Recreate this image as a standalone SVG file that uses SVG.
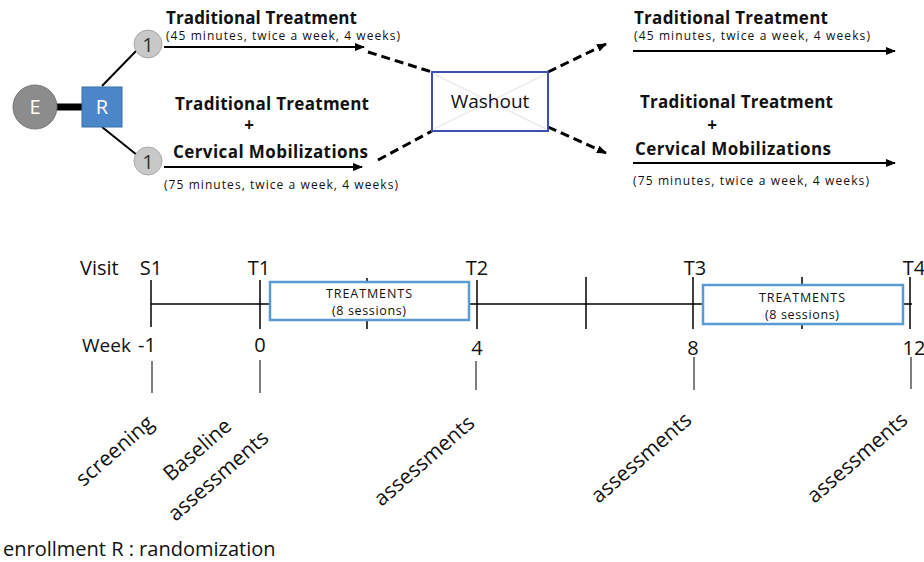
<svg xmlns="http://www.w3.org/2000/svg" width="924" height="562" viewBox="0 0 924 562">
<defs>
<marker id="ah" markerWidth="10" markerHeight="8" refX="9" refY="4" orient="auto" markerUnits="userSpaceOnUse">
<path d="M0,0 L10,4 L0,8 z" fill="#000"/>
</marker>
<style>
text{font-family:"Open Sans","Noto Sans",sans-serif;fill:#111}
.b{font-weight:bold;font-size:17px}
.s{font-size:12px}
.m{font-size:12.5px}
.big{font-size:20px}
.lab{font-size:19px}
.rot{font-size:21px}
.ln{stroke:#000;stroke-width:2;fill:none}
.dash{stroke:#000;stroke-width:3;stroke-dasharray:9,5;fill:none}
.tk{stroke:#000;stroke-width:1.5}
.thin{stroke:#000;stroke-width:1}
.tb{fill:#fff;stroke:#5b9bd5;stroke-width:2.5}
</style>
</defs>
<g id="connectors">
<line x1="56" y1="107" x2="83" y2="107" stroke="#000" stroke-width="7"/>
<line class="ln" x1="102" y1="86" x2="137" y2="50"/>
<line class="ln" x1="102" y1="127" x2="137" y2="155"/>
<line class="ln" x1="164" y1="47" x2="364" y2="47" marker-end="url(#ah)"/>
<line class="ln" x1="164" y1="167" x2="362" y2="167" marker-end="url(#ah)"/>
<line class="dash" x1="368" y1="52" x2="432" y2="72"/>
<line class="dash" x1="378" y1="160" x2="432" y2="131"/>
<line class="dash" x1="548" y1="72" x2="606" y2="44" marker-end="url(#ah)"/>
<line class="dash" x1="548" y1="127" x2="606" y2="153" marker-end="url(#ah)"/>
<line class="ln" x1="633" y1="51" x2="895" y2="51" marker-end="url(#ah)"/>
<line class="ln" x1="633" y1="163" x2="895" y2="163" marker-end="url(#ah)"/>
</g>
<g id="E"><circle cx="35" cy="107" r="22" fill="#8c8c8c" stroke="#777" stroke-width="1"/><text x="35" y="114" text-anchor="middle" class="big" style="fill:#fff">E</text></g>
<g id="R"><rect x="82" y="87" width="40" height="40" fill="#4a86c8" stroke="#3a70aa"/><text x="102" y="114" text-anchor="middle" class="big" style="fill:#fff">R</text></g>
<g id="n1top"><circle cx="148" cy="44" r="14" fill="#c8c8c8" stroke="#aaa"/><text x="148" y="52" text-anchor="middle" class="big" style="fill:#333">1</text></g>
<g id="n1bot"><circle cx="148" cy="161" r="14" fill="#c8c8c8" stroke="#aaa"/><text x="148" y="169" text-anchor="middle" class="big" style="fill:#333">1</text></g>
<g id="armA">
<text x="166" y="24" class="b" textLength="191">Traditional Treatment</text>
<text x="166" y="40" class="s" textLength="234">(45 minutes, twice a week, 4 weeks)</text>
</g>
<g id="armB">
<text x="272" y="110" class="b" text-anchor="middle" textLength="194">Traditional Treatment</text>
<text x="249" y="131" class="b" text-anchor="middle">+</text>
<text x="173" y="158" class="b" textLength="195">Cervical Mobilizations</text>
<text x="164" y="189" class="s" textLength="234">(75 minutes, twice a week, 4 weeks)</text>
</g>
<g id="washout">
<rect x="432" y="72" width="116" height="59" fill="#fff" stroke="#3f4fb0" stroke-width="2"/>
<line x1="434" y1="74" x2="546" y2="129" stroke="#ececec" stroke-width="1.5"/>
<line x1="546" y1="74" x2="434" y2="129" stroke="#ececec" stroke-width="1.5"/>
<text x="490" y="108" text-anchor="middle" class="lab">Washout</text>
</g>
<g id="armC">
<text x="634" y="24" class="b" textLength="194">Traditional Treatment</text>
<text x="634" y="40" class="s" textLength="236">(45 minutes, twice a week, 4 weeks)</text>
</g>
<g id="armD">
<text x="640" y="108" class="b" textLength="193">Traditional Treatment</text>
<text x="712" y="131" class="b" text-anchor="middle">+</text>
<text x="635" y="155" class="b" textLength="196">Cervical Mobilizations</text>
<text x="633" y="185" class="s" textLength="236">(75 minutes, twice a week, 4 weeks)</text>
</g>
<g id="timeline">
<text x="80" y="275" class="big">Visit</text>
<text x="151" y="275" class="big" text-anchor="middle">S1</text>
<text x="259" y="275" class="big" text-anchor="middle">T1</text>
<text x="477" y="275" class="big" text-anchor="middle">T2</text>
<text x="695" y="275" class="big" text-anchor="middle">T3</text>
<text x="914" y="275" class="big" text-anchor="middle">T4</text>
<line class="tk" x1="151" y1="304" x2="912" y2="304"/>
<line class="tk" x1="151" y1="280" x2="151" y2="327"/>
<line class="tk" x1="260" y1="280" x2="260" y2="329"/>
<line class="tk" x1="367" y1="278" x2="367" y2="329"/>
<line class="tk" x1="477" y1="280" x2="477" y2="329"/>
<line class="tk" x1="586" y1="277" x2="586" y2="329"/>
<line class="tk" x1="693" y1="277" x2="693" y2="329"/>
<line class="tk" x1="802" y1="277" x2="802" y2="329"/>
<line class="tk" x1="910" y1="277" x2="910" y2="329"/>
<g id="treat1"><rect class="tb" x="270" y="282" width="199" height="38"/>
<text x="369" y="298" class="m" text-anchor="middle" textLength="86">TREATMENTS</text>
<text x="369" y="315" class="m" text-anchor="middle" textLength="74">(8 sessions)</text></g>
<g id="treat2"><rect class="tb" x="703" y="285" width="200" height="39"/>
<text x="802" y="302" class="m" text-anchor="middle" textLength="86">TREATMENTS</text>
<text x="802" y="319" class="m" text-anchor="middle" textLength="74">(8 sessions)</text></g>
<text x="82" y="352" class="lab">Week</text>
<text x="147" y="352" class="big" text-anchor="middle">-1</text>
<text x="260" y="352" class="big" text-anchor="middle">0</text>
<text x="477" y="355" class="big" text-anchor="middle">4</text>
<text x="693" y="355" class="big" text-anchor="middle">8</text>
<text x="914" y="355" class="big" text-anchor="middle">12</text>
<line class="thin" x1="152" y1="361" x2="152" y2="393"/>
<line class="thin" x1="260" y1="360" x2="260" y2="393"/>
<line class="thin" x1="476" y1="361" x2="476" y2="390"/>
<line class="thin" x1="694" y1="357" x2="694" y2="390"/>
<line class="thin" x1="911" y1="357" x2="911" y2="389"/>
<text class="rot" text-anchor="end" transform="translate(155,425) rotate(-41)">screening</text>
<text class="rot" text-anchor="end" transform="translate(233,428) rotate(-41)">Baseline</text>
<text class="rot" text-anchor="end" transform="translate(270,440) rotate(-41)">assessments</text>
<text class="rot" text-anchor="end" transform="translate(476,425) rotate(-41)">assessments</text>
<text class="rot" text-anchor="end" transform="translate(693,422) rotate(-41)">assessments</text>
<text class="rot" text-anchor="end" transform="translate(909,422) rotate(-41)">assessments</text>
</g>
<text x="3" y="556" class="big">enrollment R : randomization</text>
</svg>
